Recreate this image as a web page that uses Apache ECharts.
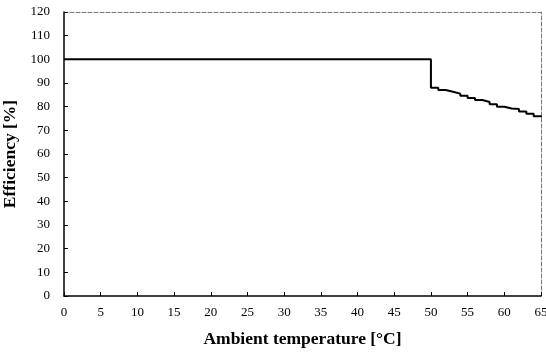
<!DOCTYPE html>
<html>
<head>
<meta charset="utf-8">
<script src="https://cdn.jsdelivr.net/npm/echarts@6/dist/echarts.min.js"></script>
<style>
  html, body { margin: 0; padding: 0; background: #fff; }
  #chart { width: 546px; height: 353px; }
</style>
</head>
<body>
<div id="chart"></div>
<script>
// ambient temperature (°C) and efficiency (%) at each step
var temps = [0, 50, 51, 52, 53, 54, 55, 56, 57, 58, 59, 60, 61, 62, 63, 64, 65];
var effs = [100, 88, 87, 86.3, 85.5, 84.6, 83.7, 82.8, 82, 81, 80, 79.2, 79, 78, 77, 76, 75.5];
var xTicks = [0, 5, 10, 15, 20, 25, 30, 35, 40, 45, 50, 55, 60, 65];
var yTicks = [0, 10, 20, 30, 40, 50, 60, 70, 80, 90, 100, 110, 120];

var chart = echarts.init(document.getElementById('chart'));
var font = 'Liberation Serif, Times New Roman, serif';

var points = temps.map(function (t, i) { return [t, effs[i]]; });

var option = {
    animation: false,
    grid: { left: 64, right: 5, top: 12, bottom: 57, outerBoundsMode: 'none', containLabel: false },
    xAxis: [{
        type: 'value',
        min: 0, max: 65, interval: 5,
        name: 'Ambient temperature [°C]',
        nameLocation: 'middle',
        nameGap: 34,
        nameTextStyle: { fontFamily: font, fontSize: 17.5, fontWeight: 'bold', color: '#000' },
        axisLine: { onZero: false, lineStyle: { color: '#000', width: 1.5 } },
        axisTick: { inside: true, length: 4, lineStyle: { color: '#000' } },
        axisLabel: { fontFamily: font, fontSize: 13, color: '#000', margin: 10 },
        splitLine: { show: false }
    }, {
        type: 'value', position: 'top',
        min: 0, max: 65,
        axisLine: { show: true, onZero: false, lineStyle: { color: '#777', type: 'dashed', width: 1 } },
        axisTick: { show: false }, axisLabel: { show: false }, splitLine: { show: false }
    }],
    yAxis: [{
        type: 'value',
        min: 0, max: 120, interval: 10,
        name: 'Efficiency [%]',
        nameLocation: 'middle',
        nameGap: 41,
        nameTextStyle: { fontFamily: font, fontSize: 17.5, fontWeight: 'bold', color: '#000' },
        axisLine: { show: true, onZero: false, lineStyle: { color: '#000', width: 1.5 } },
        axisTick: { show: true, inside: true, length: 4, lineStyle: { color: '#000' } },
        axisLabel: { fontFamily: font, fontSize: 13, color: '#000', margin: 14 },
        splitLine: { show: false }
    }, {
        type: 'value', position: 'right',
        min: 0, max: 120,
        axisLine: { show: true, onZero: false, lineStyle: { color: '#777', type: 'dashed', width: 1 } },
        axisTick: { show: false }, axisLabel: { show: false }, splitLine: { show: false }
    }],
    series: [{
        type: 'line',
        step: 'end',
        data: points,
        symbol: 'none',
        lineStyle: { color: '#000', width: 2 }
    }]
};
chart.setOption(option);
</script>
</body>
</html>
